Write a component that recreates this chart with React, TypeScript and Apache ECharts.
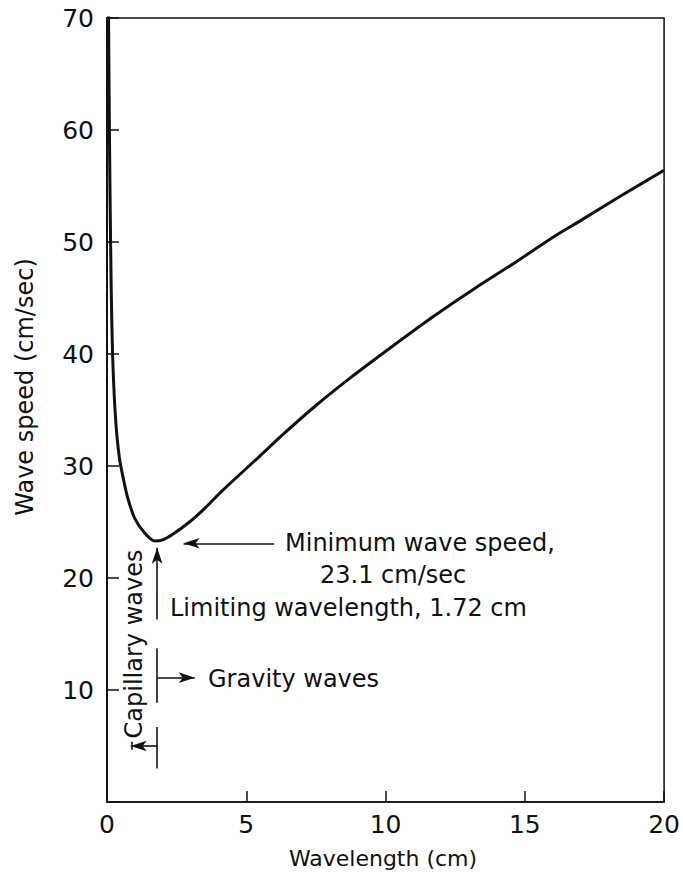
import React, { useEffect, useRef } from "react";
import * as echarts from "echarts";

// Curve (wavelength in cm, wave speed in cm/sec)
const wavelength = [0.05, 0.08, 0.11, 0.15, 0.2, 0.3, 0.44, 0.6, 0.75, 1.0, 1.36, 1.72, 2.0, 2.36, 2.96, 3.5, 4.14, 5.36, 6.31, 7.5, 8.7, 10.2, 11.69, 13.2, 14.67, 16.0, 17.06, 18.5, 20];
const waveSpeed = [72, 62, 54, 46, 40, 34.5, 30.8, 28.7, 27.1, 25.3, 24.0, 23.3, 23.4, 23.9, 25.0, 26.2, 27.8, 30.6, 32.8, 35.4, 37.8, 40.6, 43.3, 45.85, 48.2, 50.4, 52.0, 54.2, 56.4];

const xTicks = [0, 5, 10, 15, 20];
const yTicks = [10, 20, 30, 40, 50, 60, 70];

// Annotation segments in data coordinates: [x1, y1, x2, y2, arrowAtEnd]
const minSpeedArrow = [6.0, 23.1, 2.75, 23.1, true];
const limitArrow = [1.8, 16.3, 1.8, 22.7, true];
const gravityBar = [1.8, 13.7, 1.8, 8.86, false];
const gravityArrow = [1.8, 11.1, 3.15, 11.1, true];
const capillaryBar = [1.8, 6.7, 1.8, 3.0, false];
const capillaryArrow = [1.8, 5.0, 0.85, 5.0, true];
const capillaryTip = [0.9, 4.66, 0.9, 5.37, false];

const FONT = '"DejaVu Sans", sans-serif';
const INK = "#111";

export default function App() {
  const ref = useRef<HTMLDivElement>(null);
  useEffect(() => {
    document.body.style.margin = "0";
    const chart = echarts.init(ref.current!, null, { renderer: "svg" });
    const seg = (s: any[]) => [
      { coord: [s[0], s[1]], symbol: "none" },
      { coord: [s[2], s[3]], symbol: s[4] ? "arrow" : "none", symbolSize: [8, 16] },
    ];
    const txt = (text: string, x: number, y: number, size: number, extra: any = {}) => ({
      type: "text",
      x,
      y,
      ...extra,
      style: {
        text,
        fontSize: size,
        fontFamily: FONT,
        fill: INK,
        textAlign: extra.align || "left",
        textVerticalAlign: "middle",
      },
    });
    chart.setOption({
      animation: false,
      backgroundColor: "#fff",
      grid: {
        left: 107,
        right: 17,
        top: 18,
        bottom: 71,
        show: true,
        borderColor: INK,
        borderWidth: 1.5,
        backgroundColor: "transparent",
      },
      xAxis: {
        type: "value",
        min: xTicks[0],
        max: xTicks[xTicks.length - 1],
        interval: 5,
        axisLine: { show: true, lineStyle: { color: INK, width: 1.5 } },
        axisTick: { show: true, inside: true, length: 11, lineStyle: { color: INK, width: 1.5 } },
        splitLine: { show: false },
        axisLabel: { color: INK, fontSize: 25, fontFamily: FONT, margin: 10 },
      },
      yAxis: {
        type: "value",
        min: 0,
        max: yTicks[yTicks.length - 1],
        interval: 10,
        axisLine: { show: true, lineStyle: { color: INK, width: 2 } },
        axisTick: { show: true, inside: true, length: 12, lineStyle: { color: INK, width: 1.5 } },
        splitLine: { show: false },
        axisLabel: {
          color: INK,
          fontSize: 25,
          fontFamily: FONT,
          margin: 13,
          formatter: (v: number) => (yTicks.includes(v) ? String(v) : ""),
        },
      },
      series: [
        {
          type: "line",
          data: wavelength.map((x, i) => [x, waveSpeed[i]]),
          smooth: 0.25,
          symbol: "none",
          clip: true,
          lineStyle: { color: INK, width: 3 },
          markLine: {
            silent: true,
            animation: false,
            label: { show: false },
            lineStyle: { color: INK, width: 1.6, type: "solid" },
            emphasis: { disabled: true },
            data: [minSpeedArrow, limitArrow, gravityBar, gravityArrow, capillaryBar, capillaryArrow, capillaryTip].map(seg),
          },
        },
      ],
      graphic: [
        txt("Minimum wave speed,", 285, 543, 24),
        txt("23.1 cm/sec", 320, 575, 24),
        txt("Limiting wavelength, 1.72 cm", 170, 608, 24),
        txt("Gravity waves", 208, 679, 24),
        txt("Capillary waves", 134, 644, 24, { rotation: Math.PI / 2, align: "center" }),
        txt("Wave speed (cm/sec)", 25, 387, 24, { rotation: Math.PI / 2, align: "center" }),
        txt("Wavelength (cm)", 383, 858, 22, { align: "center" }),
      ],
    });
    return () => chart.dispose();
  }, []);
  return <div ref={ref} style={{ width: 683, height: 873 }} />;
}
